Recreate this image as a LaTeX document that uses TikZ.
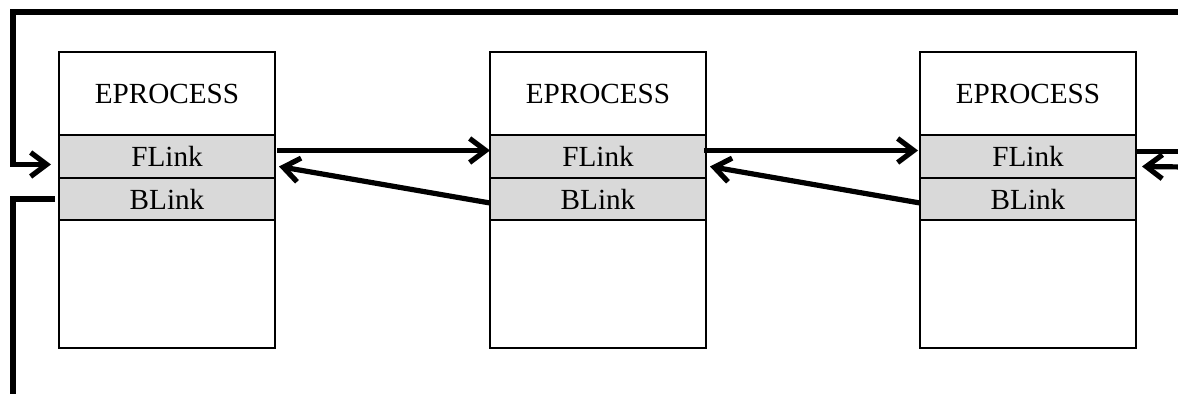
\documentclass[tikz,border=0pt]{standalone}
\usepackage{fontspec}
\setmainfont{Liberation Serif}
\usetikzlibrary{positioning,arrows.meta}
\definecolor{linkgray}{RGB}{217,217,217}

\begin{document}
\begin{tikzpicture}[x=0.5pt,y=-0.5pt,
  >={Straight Barb[length=8pt,width=12pt]},
  field/.style={draw, line width=1pt, minimum width=108pt, inner sep=0pt,
    outer sep=0pt, font=\fontsize{14.6}{16}\selectfont},
  link/.style={line width=2.6pt}]
\useasboundingbox (0,0) rectangle (1178,394);
\clip (0,0) rectangle (1178,394);
% three EPROCESS blocks
\foreach \i/\x in {1/59,2/490,3/920} {
  \node[field, minimum height=41.5pt, anchor=north west] (head\i) at (\x,52) {EPROCESS};
  \node[field, fill=linkgray, minimum height=21.5pt, below=0pt of head\i] (flink\i) {FLink};
  \node[field, fill=linkgray, minimum height=21pt, below=0pt of flink\i] (blink\i) {BLink};
  \node[field, minimum height=64pt, below=0pt of blink\i] (body\i) {};
}
% forward and backward links
\draw[link,->] ([xshift=1pt,yshift=3pt]flink1.east) -- ([yshift=3pt]flink2.west);
\draw[link,->] ([xshift=-1pt,yshift=3pt]flink2.east) -- ([xshift=-1pt,yshift=3pt]flink3.west);
\draw[link,->] ([yshift=-2pt]blink2.west) -- ([xshift=2pt,yshift=-5pt]flink1.east);
\draw[link,->] ([yshift=-2pt]blink3.west) -- ([xshift=2pt,yshift=-5pt]flink2.east);
% wrap-around
\coordinate (topright) at (1181,12);
\coordinate (topleft) at (13,12);
\coordinate (botleft) at (13,400);
\coordinate (rightin) at (1185,167);
\draw[link,->] ([yshift=2.5pt]flink3.east) -| (topright) -- (topleft)
  |- ([xshift=-4pt,yshift=-4pt]flink1.west);
\draw[link] ([xshift=-2pt]blink1.west) -| (botleft);
\draw[link,->] (rightin) -- ([xshift=3pt,yshift=-5pt]flink3.east);
\end{tikzpicture}
\end{document}
